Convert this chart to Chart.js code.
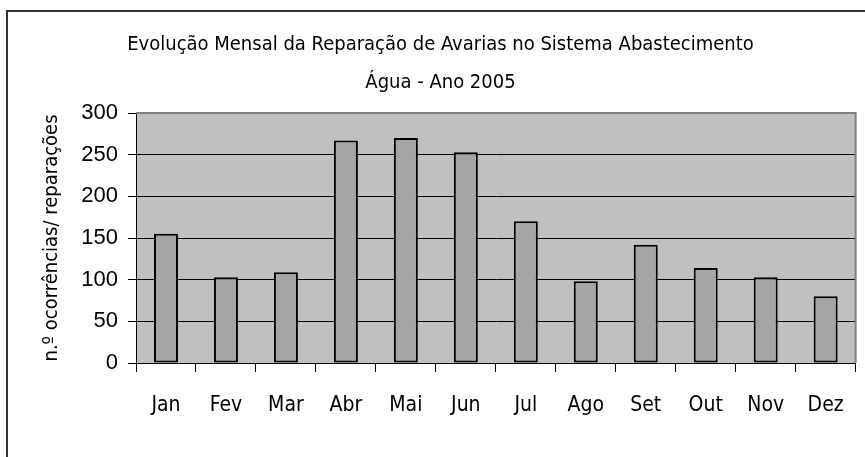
<!DOCTYPE html>
<html>
<head>
<meta charset="utf-8">
<title>Reparação de Avarias 2005</title>
<script src="https://cdn.jsdelivr.net/npm/chart.js@4.4.1/dist/chart.umd.min.js"></script>
<style>
  html, body { margin: 0; padding: 0; background: #fff; }
  #wrap { width: 865px; height: 457px; }
</style>
</head>
<body>
<div id="wrap"><canvas id="grafico" width="865" height="457"></canvas></div>
<script>
// Dados
var meses = ['Jan', 'Fev', 'Mar', 'Abr', 'Mai', 'Jun', 'Jul', 'Ago', 'Set', 'Out', 'Nov', 'Dez'];
var reparacoes = [155, 103, 109, 267, 270, 253, 170, 98, 142, 114, 103, 80];
var titulo = ['Evolução Mensal da Reparação de Avarias no Sistema Abastecimento', 'Água - Ano 2005'];
var tituloEixoY = 'n.º ocorrências/ reparações';
var limitesY = [0, 300];
var passoY = 50;

var letraEstreita = '"Liberation Sans Narrow", "Arial Narrow", "DejaVu Sans Condensed", sans-serif';
var letraNormal = '"Liberation Sans", Arial, sans-serif';

// Fundo cinzento da área do gráfico e moldura exterior
var fundo = {
  id: 'fundo',
  beforeDraw: function (chart) {
    var ctx = chart.ctx, a = chart.chartArea;
    ctx.save();
    ctx.fillStyle = '#fff';
    ctx.fillRect(0, 0, chart.width, chart.height);
    ctx.strokeStyle = '#333';
    ctx.lineWidth = 2;
    ctx.strokeRect(7, 11, chart.width, chart.height);
    ctx.fillStyle = '#c0c0c0';
    ctx.fillRect(a.left, a.top, a.right - a.left, a.bottom - a.top);
    ctx.restore();
  },
  afterDraw: function (chart) {
    var ctx = chart.ctx, a = chart.chartArea;
    ctx.save();
    ctx.strokeStyle = '#808080';
    ctx.lineWidth = 2;
    ctx.beginPath();
    ctx.moveTo(a.left, a.top);
    ctx.lineTo(a.right, a.top);
    ctx.lineTo(a.right, a.bottom);
    ctx.stroke();
    ctx.restore();
  }
};

var ctx = document.getElementById('grafico');
var grafico = new Chart(ctx, {
  type: 'bar',
  data: {
    labels: meses,
    datasets: [{
      label: 'Reparações',
      data: reparacoes,
      backgroundColor: '#a5a5a5',
      borderColor: '#000',
      borderWidth: 2,
      borderSkipped: false,
      categoryPercentage: 0.4,
      barPercentage: 1
    }]
  },
  options: {
    responsive: false,
    animation: false,
    layout: { padding: { left: 23, right: 7, top: 0, bottom: 0 } },
    plugins: {
      legend: { display: false },
      tooltip: { enabled: false },
      title: {
        display: true,
        text: titulo,
        color: '#000',
        font: { family: letraEstreita, size: 20, weight: 'normal', lineHeight: 1.9 },
        padding: { top: 26, bottom: 11 }
      }
    },
    scales: {
      x: {
        afterFit: function (s) { s.height = 94; },
        grid: { display: true, drawOnChartArea: false, drawTicks: true, tickLength: 9, color: '#000', offset: true },
        border: { display: true, color: '#000', width: 1 },
        ticks: { color: '#000', padding: 21, font: { family: letraEstreita, size: 21 } }
      },
      y: {
        min: limitesY[0],
        max: limitesY[1],
        afterFit: function (s) { s.width = 113; },
        grid: { color: '#000', lineWidth: 1, tickLength: 8, drawTicks: true },
        border: { display: true, color: '#000', width: 1 },
        ticks: { stepSize: passoY, color: '#000', padding: 10, font: { family: letraNormal, size: 22 } },
        title: {
          display: true,
          text: tituloEixoY,
          color: '#000',
          font: { family: letraEstreita, size: 20, weight: 'normal' },
          padding: { top: 17, bottom: 0 }
        }
      }
    }
  },
  plugins: [fundo]
});
</script>
</body>
</html>
